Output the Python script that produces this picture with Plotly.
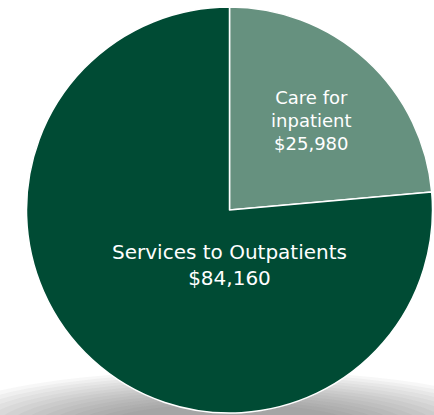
import plotly.graph_objects as go

labels = ["Care for<br>inpatient", "Services to Outpatients"]
values = [25980, 84160]
colors = ["#66917f", "#004b34"]
label_sizes = [18, 20]

W, H = 434, 415
ML, MR, MT, MB = 26, 1, 7, 2

fig = go.Figure()

def px_to_paper(x, y):
    return (x - ML) / (W - ML - MR), 1 - (y - MT) / (H - MT - MB)

# soft drop shadow under the pie (many thin translucent ellipses)
n_layers = 14
for i in range(n_layers):
    t = i / (n_layers - 1)
    rx = 300 - 170 * t
    ry = 58 - 34 * t
    cx, cy = 229, 428
    x0, y1 = px_to_paper(cx - rx, cy - ry)
    x1, y0 = px_to_paper(cx + rx, cy + ry)
    fig.add_shape(type="circle", xref="paper", yref="paper",
                  x0=x0, x1=x1, y0=y0, y1=y1,
                  fillcolor="#404040", opacity=0.045, line=dict(width=0),
                  layer="below")

fig.add_trace(go.Pie(
    labels=labels,
    values=values,
    sort=False,
    direction="clockwise",
    rotation=0,
    marker=dict(colors=colors, line=dict(color="white", width=1.5)),
    texttemplate="%{label}<br>$%{value:,}",
    textposition="inside",
    insidetextorientation="horizontal",
    textfont=dict(family="DejaVu Sans", size=label_sizes, color="white"),
    hoverinfo="label+value",
    showlegend=False,
))

fig.update_layout(
    width=W, height=H,
    margin=dict(l=ML, r=MR, t=MT, b=MB),
    paper_bgcolor="rgba(0,0,0,0)",
    plot_bgcolor="rgba(0,0,0,0)",
)

fig.write_html("out.html",
               config={"displayModeBar": False},
               post_script="document.body.style.margin='0';document.body.style.background='white';")
